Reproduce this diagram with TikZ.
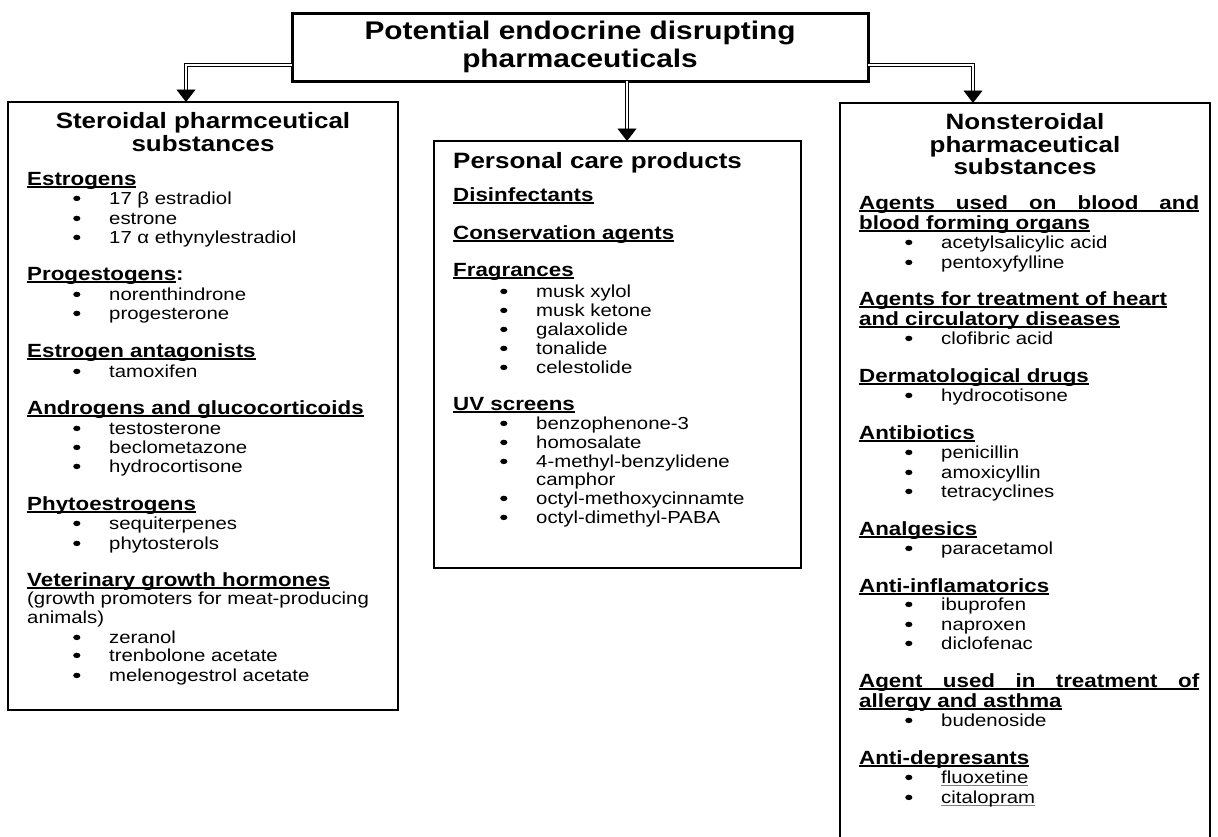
\documentclass[tikz,border=0pt]{standalone}
\usepackage{fontspec}
\setmainfont{Liberation Sans}[FakeStretch=1.17]
\usetikzlibrary{arrows.meta}
\newcommand\ulx[1]{\setbox0\hbox{#1}\rlap{\rule[-2.8pt]{\wd0}{1.5pt}}\box0}
\newcommand\ulg[1]{\setbox0\hbox{#1}\rlap{\color{gray}\rule[-2.6pt]{\wd0}{1.1pt}}\box0}
\newcommand\bul{\llap{\makebox[36pt][l]{\tikz[baseline=0pt]\fill (3.6pt,5.6pt) ellipse [x radius=3.6pt, y radius=2.7pt];}}}
\begin{document}
\begin{tikzpicture}[x=1pt,y=-1pt,
  topbox/.style={draw, line width=3pt, outer sep=0pt, inner sep=0pt, align=center,
    font=\fontsize{25.5}{28}\selectfont\bfseries},
  sidebox/.style={draw, line width=2.3pt, outer sep=0pt, inner sep=0pt, anchor=north west},
  ttl/.style={anchor=base, inner sep=0pt, font=\fontsize{22.2}{26}\selectfont\bfseries},
  ttlw/.style={anchor=base west, inner sep=0pt, font=\fontsize{22.2}{26}\selectfont\bfseries},
  hd/.style={anchor=base west, inner sep=0pt, font=\fontsize{19.1}{22}\selectfont\bfseries},
  itm/.style={anchor=base west, inner sep=0pt, font=\fontsize{17.4}{20}\selectfont},
  dbl/.style={double, double distance=2.2pt, line width=0.9pt,
    -{Triangle[width=19pt,length=12.5pt]}}]
\fill[white] (0,0) rectangle (1218,836);
\useasboundingbox (0,0) rectangle (1218,836);
\clip (0,0) rectangle (1218,836);

% boxes
\node[topbox, minimum width=576pt, minimum height=68pt] (title) at (580,47)
  {\raisebox{-1.5pt}{Potential endocrine disrupting}\\\raisebox{-1.5pt}{pharmaceuticals}};
\node[sidebox, minimum width=390pt, minimum height=608pt] (left) at (8,102) {};
\node[sidebox, minimum width=367pt, minimum height=427pt] (mid) at (434,141) {};
\node[sidebox, minimum width=370pt, minimum height=780pt] (right) at (840,103) {};
\coordinate (yl) at (0,65);
\coordinate (xl) at (186,0);
\coordinate (xm) at (627,0);
\coordinate (xr) at (973,0);

% connectors
\draw[dbl] (title.west |- yl) -| (left.north -| xl);
\draw[dbl] (title.south -| xm) -- (mid.north -| xm);
\draw[dbl] (title.east |- yl) -| (right.north -| xr);

% left box
\node[ttl] (lt1) at (203,128) {Steroidal pharmceutical};
\node[ttl] (lt2) at (203,151) {substances};
\node[hd] (lh1) at (27,185) {\ulx{Estrogens}};
\node[itm] (li1) at (109,204) {\bul 17 β estradiol};
\node[itm] (li2) at (109,224) {\bul estrone};
\node[itm] (li3) at (109,243) {\bul 17 α ethynylestradiol};
\node[hd] (lh2) at (27,280) {\ulx{Progestogens}:};
\node[itm] (li4) at (109,300) {\bul norenthindrone};
\node[itm] (li5) at (109,319) {\bul progesterone};
\node[hd] (lh3) at (27,357) {\ulx{Estrogen antagonists}};
\node[itm] (li6) at (109,377) {\bul tamoxifen};
\node[hd] (lh4) at (27,414) {\ulx{Androgens and glucocorticoids}};
\node[itm] (li7) at (109,434) {\bul testosterone};
\node[itm] (li8) at (109,453) {\bul beclometazone};
\node[itm] (li9) at (109,472) {\bul hydrocortisone};
\node[hd] (lh5) at (27,510) {\ulx{Phytoestrogens}};
\node[itm] (li10) at (109,529) {\bul sequiterpenes};
\node[itm] (li11) at (109,549) {\bul phytosterols};
\node[hd] (lh6) at (27,586) {\ulx{Veterinary growth hormones}};
\node[itm] (lp1) at (27,604) {(growth promoters for meat-producing};
\node[itm] (lp2) at (27,623) {animals)};
\node[itm] (li12) at (109,643) {\bul zeranol};
\node[itm] (li13) at (109,661) {\bul trenbolone acetate};
\node[itm] (li14) at (109,681) {\bul melenogestrol acetate};

% middle box
\node[ttlw] (mt) at (453,168) {Personal care products};
\node[hd] (mh1) at (453,201) {\ulx{Disinfectants}};
\node[hd] (mh2) at (453,239) {\ulx{Conservation agents}};
\node[hd] (mh3) at (453,276) {\ulx{Fragrances}};
\node[itm] (mi1) at (536,297) {\bul musk xylol};
\node[itm] (mi2) at (536,316) {\bul musk ketone};
\node[itm] (mi3) at (536,335) {\bul galaxolide};
\node[itm] (mi4) at (536,354) {\bul tonalide};
\node[itm] (mi5) at (536,373) {\bul celestolide};
\node[hd] (mh4) at (453,410) {\ulx{UV screens}};
\node[itm] (mi6) at (536,429) {\bul benzophenone-3};
\node[itm] (mi7) at (536,448) {\bul homosalate};
\node[itm] (mi8) at (536,467) {\bul 4-methyl-benzylidene};
\node[itm] (mi9) at (536,485) {camphor};
\node[itm] (mi10) at (536,504) {\bul octyl-methoxycinnamte};
\node[itm] (mi11) at (536,523) {\bul octyl-dimethyl-PABA};

% right box
\node[ttl] (rt1) at (1025,129) {Nonsteroidal};
\node[ttl] (rt2) at (1025,152) {pharmaceutical};
\node[ttl] (rt3) at (1025,174) {substances};
\node[hd] (rh1) at (859,209) {\ulx{\makebox[340pt][s]{Agents used on blood and}}};
\node[hd] (rh1b) at (859,229) {\ulx{blood forming organs}};
\node[itm] (ri1) at (941,248) {\bul acetylsalicylic acid};
\node[itm] (ri2) at (941,268) {\bul pentoxyfylline};
\node[hd] (rh2) at (859,305) {\ulx{Agents for treatment of heart}};
\node[hd] (rh2b) at (859,325) {\ulx{and circulatory diseases}};
\node[itm] (ri3) at (941,344) {\bul clofibric acid};
\node[hd] (rh3) at (859,382) {\ulx{Dermatological drugs}};
\node[itm] (ri4) at (941,401) {\bul hydrocotisone};
\node[hd] (rh4) at (859,439) {\ulx{Antibiotics}};
\node[itm] (ri5) at (941,458) {\bul penicillin};
\node[itm] (ri6) at (941,478) {\bul amoxicyllin};
\node[itm] (ri7) at (941,497) {\bul tetracyclines};
\node[hd] (rh5) at (859,535) {\ulx{Analgesics}};
\node[itm] (ri8) at (941,554) {\bul paracetamol};
\node[hd] (rh6) at (859,592) {\ulx{Anti-inflamatorics}};
\node[itm] (ri9) at (941,610) {\bul ibuprofen};
\node[itm] (ri10) at (941,630) {\bul naproxen};
\node[itm] (ri11) at (941,649) {\bul diclofenac};
\node[hd] (rh7) at (859,687) {\ulx{\makebox[340pt][s]{Agent used in treatment of}}};
\node[hd] (rh7b) at (859,707) {\ulx{allergy and asthma}};
\node[itm] (ri12) at (941,726) {\bul budenoside};
\node[hd] (rh8) at (859,764) {\ulx{Anti-depresants}};
\node[itm] (ri13) at (941,783) {\bul \ulg{fluoxetine}};
\node[itm] (ri14) at (941,803) {\bul \ulg{citalopram}};
\end{tikzpicture}
\end{document}
